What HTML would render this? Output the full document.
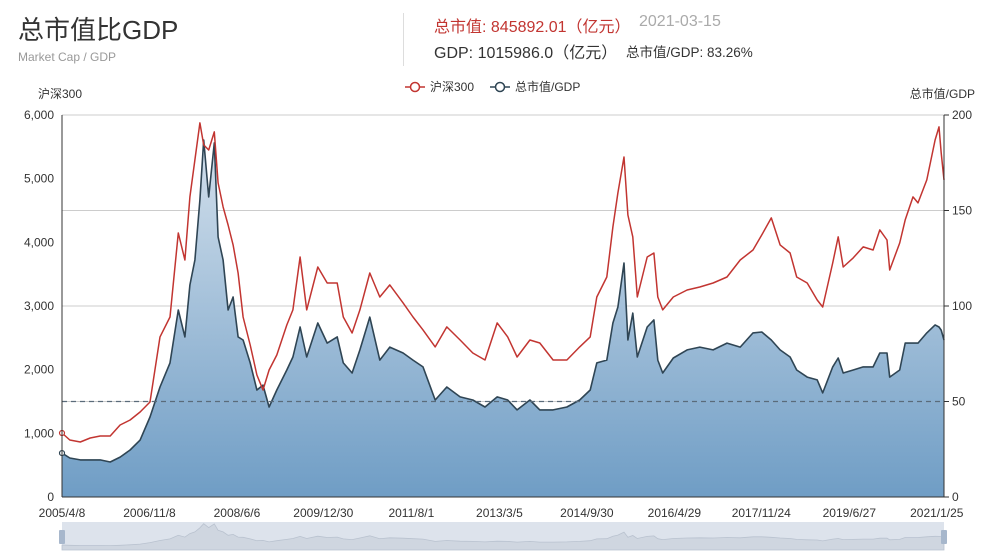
<!DOCTYPE html>
<html><head><meta charset="utf-8">
<style>
body{margin:0;background:#fff;width:981px;height:556px;overflow:hidden;font-family:"Liberation Sans","Noto Sans CJK SC",sans-serif;}
.t{position:absolute;white-space:nowrap;}
</style></head>
<body>
<div style="position:relative;width:981px;height:556px;">
<div class="t" style="left:18px;top:10px;font-size:26px;color:#333;">总市值比GDP</div>
<div class="t" style="left:18px;top:50px;font-size:12px;color:#999;">Market Cap / GDP</div>
<div style="position:absolute;left:403px;top:13px;width:1px;height:53px;background:#ddd;"></div>
<div class="t" style="left:434px;top:13px;font-size:16px;color:#c23531;">总市值: 845892.01（亿元）</div>
<div class="t" style="left:639px;top:13px;font-size:16px;color:#aaa;">2021-03-15</div>
<div class="t" style="left:434px;top:39px;font-size:16px;color:#333;">GDP: 1015986.0（亿元）</div>
<div class="t" style="left:626px;top:41px;font-size:13.5px;color:#333;">总市值/GDP: 83.26%</div>
<svg id="chart" width="981" height="556" style="position:absolute;left:0;top:0;">
<defs>
<linearGradient id="ag" x1="0" y1="0" x2="0" y2="1">
<stop offset="0" stop-color="#d3e0ec"/><stop offset="1" stop-color="#6f9dc5"/>
</linearGradient>
</defs>
</svg>
</div>
<script>
const dates=[2005.27,2005.41,2005.60,2005.78,2005.96,2006.14,2006.32,2006.50,2006.68,2006.86,2007.04,2007.22,2007.37,2007.49,2007.58,2007.67,2007.76,2007.83,2007.92,2008.02,2008.09,2008.18,2008.27,2008.36,2008.45,2008.54,2008.67,2008.79,2008.90,2009.01,2009.15,2009.33,2009.44,2009.57,2009.69,2009.89,2010.06,2010.24,2010.35,2010.51,2010.65,2010.83,2011.01,2011.19,2011.43,2011.61,2011.79,2012.01,2012.22,2012.46,2012.69,2012.91,2013.13,2013.32,2013.49,2013.72,2013.90,2014.14,2014.39,2014.62,2014.81,2014.93,2015.11,2015.22,2015.31,2015.42,2015.49,2015.58,2015.66,2015.84,2015.96,2016.03,2016.12,2016.31,2016.56,2016.79,2017.03,2017.28,2017.52,2017.75,2017.91,2018.08,2018.24,2018.42,2018.54,2018.73,2018.91,2019.01,2019.19,2019.29,2019.38,2019.56,2019.74,2019.92,2020.04,2020.17,2020.22,2020.40,2020.50,2020.64,2020.73,2020.89,2021.04,2021.11,2021.15,2021.20];
const csi300=[1005,895,864,927,958,958,1131,1210,1335,1492,2514,2828,4147,3723,4713,5294,5876,5530,5451,5734,4933,4556,4273,3959,3519,2828,2388,1917,1681,1995,2231,2702,2938,3770,2938,3613,3362,3362,2828,2576,2938,3519,3142,3331,3048,2828,2624,2357,2671,2466,2262,2152,2734,2514,2199,2466,2419,2152,2152,2357,2514,3142,3456,4242,4776,5341,4430,4085,3142,3770,3833,3142,2938,3142,3252,3299,3362,3456,3723,3880,4116,4383,3959,3833,3456,3362,3095,2985,3676,4085,3613,3755,3928,3880,4195,4037,3566,3990,4352,4713,4619,4980,5608,5813,5404,4980];
const ratio=[23.0,20.4,19.4,19.4,19.4,18.3,20.9,24.6,29.8,41.9,57.6,70.2,97.9,83.8,111.0,124.1,155.5,186.9,157.1,185.4,136.1,124.1,97.9,104.7,83.8,82.2,70.2,56.0,58.6,47.1,56.0,66.5,73.3,89.0,73.3,91.1,80.6,83.8,70.2,64.9,77.0,94.2,71.7,78.5,75.4,71.7,68.1,50.8,57.6,52.4,50.8,47.1,52.4,50.8,45.6,50.8,45.6,45.6,47.1,50.8,56.0,70.2,71.7,91.1,99.5,122.5,82.2,96.3,73.3,89.0,92.7,71.7,64.9,72.8,77.0,78.5,77.0,80.6,78.5,85.9,86.4,82.2,77.0,73.3,66.5,62.8,61.3,54.5,68.1,72.8,64.9,66.5,68.1,68.1,75.4,75.4,62.8,66.5,80.6,80.6,80.6,85.9,90.1,89.0,87.4,82.2];
const leftTicks=[0,1000,2000,3000,4000,5000,6000];
const rightTicks=[0,50,100,150,200];
const xTickDates=[2005.27,2006.85,2008.43,2009.99,2011.58,2013.17,2014.75,2016.33,2017.90,2019.49,2021.07];
const xTickLabels=["2005/4/8","2006/11/8","2008/6/6","2009/12/30","2011/8/1","2013/3/5","2014/9/30","2016/4/29","2017/11/24","2019/6/27","2021/1/25"];
const markLineValue=50;

const L=62,R=944,T=115,B=497;
const d0=2005.27,d1=2021.20;
const xs=d=>L+(d-d0)/(d1-d0)*(R-L);
const yl=v=>B-v/6000*(B-T);
const yr=v=>B-v/200*(B-T);
const svg=document.getElementById('chart');
const NS='http://www.w3.org/2000/svg';
function mk(tag,attrs,parent){const e=document.createElementNS(NS,tag);for(const k in attrs)e.setAttribute(k,attrs[k]);(parent||svg).appendChild(e);return e;}
function txt(s,x,y,anchor,size,fill){const e=mk('text',{x:x,y:y,'text-anchor':anchor,'font-size':size,fill:fill,'font-family':'"Liberation Sans","Noto Sans CJK SC",sans-serif'});e.textContent=s;return e;}

rightTicks.forEach(v=>{if(v===0)return;
 const g=mk('line',{x1:L,x2:R,y1:yr(v),y2:yr(v),stroke:'#ccc','stroke-width':1});
 
 
});
let ap='M'+xs(dates[0])+','+B;
dates.forEach((d,i)=>{ap+=' L'+xs(d).toFixed(1)+','+yr(ratio[i]).toFixed(1);});
ap+=' L'+xs(dates[dates.length-1])+','+B+' Z';
const area=mk('path',{d:ap,fill:'url(#ag)'});


const rp=dates.map((d,i)=>(i?'L':'M')+xs(d).toFixed(1)+','+yr(ratio[i]).toFixed(1)).join(' ');
const rl=mk('path',{d:rp,fill:'none',stroke:'#2f4554','stroke-width':1.6,'stroke-linejoin':'round'});


const cp=dates.map((d,i)=>(i?'L':'M')+xs(d).toFixed(1)+','+yl(csi300[i]).toFixed(1)).join(' ');
const cl=mk('path',{d:cp,fill:'none',stroke:'#c23531','stroke-width':1.5,'stroke-linejoin':'round'});


const ml=mk('line',{x1:L,x2:R,y1:yr(markLineValue),y2:yr(markLineValue),stroke:'#5a6b7a','stroke-width':1.2,'stroke-dasharray':'5,4'});


[[yl(csi300[0]),'#c23531'],[yr(ratio[0]),'#2f4554']].forEach(p=>{
 const c=mk('circle',{cx:L,cy:p[0],r:2.5,fill:'#fff',stroke:p[1],'stroke-width':1.2});
 
 
});
mk('line',{x1:L,x2:L,y1:T,y2:B,stroke:'#333','stroke-width':1});
mk('line',{x1:R,x2:R,y1:T,y2:B,stroke:'#333','stroke-width':1});
mk('line',{x1:L,x2:R,y1:B,y2:B,stroke:'#333','stroke-width':1});
leftTicks.forEach(v=>{
 const t=txt(v.toLocaleString('en-US'),L-8,yl(v)+4,'end',12,'#333');
 
 
});
rightTicks.forEach(v=>{
 mk('line',{x1:R,x2:R+5,y1:yr(v),y2:yr(v),stroke:'#333'});
 const t=txt(String(v),R+8,yr(v)+4,'start',12,'#333');
 
 
});
xTickDates.forEach((d,i)=>{
 const t=txt(xTickLabels[i],xs(d),517,'middle',12,'#333');
 
 
});
const ly=txt('沪深300',38,98,'start',12,'#333');


const ry=txt('总市值/GDP',975,98,'end',12,'#333');


[['沪深300','#c23531',405],['总市值/GDP','#2f4554',490]].forEach(l=>{
 const g=mk('g',{});
 
 
 mk('line',{x1:l[2],x2:l[2]+20,y1:87,y2:87,stroke:l[1],'stroke-width':1.5},g);
 mk('circle',{cx:l[2]+10,cy:87,r:4.5,fill:'#fff',stroke:l[1],'stroke-width':1.5},g);
 const t=txt(l[0],l[2]+25,91,'start',12,'#333');g.appendChild(t);
});
const dz=mk('g',{});


mk('rect',{x:L,y:522,width:R-L,height:28,fill:'#dde3ec'},dz);
let mp='M'+L+',550';
dates.forEach((d,i)=>{mp+=' L'+xs(d).toFixed(1)+','+(548-ratio[i]/200*26).toFixed(1);});
mp+=' L'+R+',550 Z';
mk('path',{d:mp,fill:'#cfd6e0',stroke:'#b9c2cf','stroke-width':0.8},dz);
[L,R].forEach(x=>{
 const h=mk('rect',{x:x-3,y:530,width:6,height:14,rx:1,fill:'#a7b7cc'},dz);
 
 
});
</script>
</body></html>
